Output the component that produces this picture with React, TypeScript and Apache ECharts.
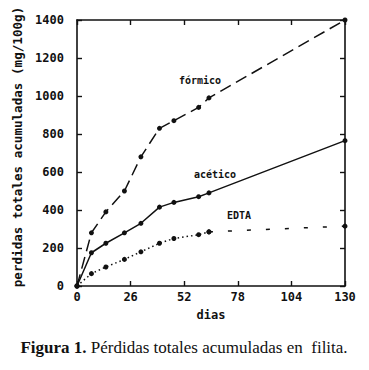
import React, { useEffect, useRef } from "react";
import * as echarts from "echarts";

const days = [0, 7, 14, 23, 31, 40, 47, 59, 64, 130];
const formico = [0, 280, 390, 500, 680, 830, 870, 940, 990, 1400];
const acetico = [0, 175, 225, 280, 330, 415, 440, 470, 490, 765];
const edta = [0, 65, 100, 140, 180, 225, 250, 270, 285, 315];
const xTicks = [0, 26, 52, 78, 104, 130];
const yTicks = [0, 200, 400, 600, 800, 1000, 1200, 1400];

const MONO = "'DejaVu Sans Mono', monospace";

export default function App() {
  const ref = useRef<HTMLDivElement>(null);
  useEffect(() => {
    document.body.style.margin = "0";
    const chart = echarts.init(ref.current!, null, { renderer: "svg" });
    const pts = (ys: number[]) => days.map((d, i) => [d, ys[i]]);
    const edtaPts = pts(edta);
    const axisCommon = {
      axisLine: { show: true, onZero: false, lineStyle: { color: "#111", width: 1.6 } },
      axisTick: { show: true, inside: true, length: 5, lineStyle: { color: "#111", width: 1.4 } },
      splitLine: { show: false },
    };
    const plain = (v: number) => String(v);
    chart.setOption({
      animation: false,
      grid: { left: 77, right: 24, top: 20, bottom: 84 },
      xAxis: [
        {
          type: "value",
          min: xTicks[0],
          max: xTicks[xTicks.length - 1],
          interval: 26,
          ...axisCommon,
          axisLabel: { margin: 5, fontFamily: MONO, fontWeight: "bold", fontSize: 12, color: "#111", formatter: plain },
          name: "dias",
          nameLocation: "middle",
          nameGap: 23,
          nameTextStyle: { fontFamily: MONO, fontWeight: "bold", fontSize: 12, color: "#111" },
        },
        {
          type: "value",
          position: "top",
          min: xTicks[0],
          max: xTicks[xTicks.length - 1],
          interval: 26,
          ...axisCommon,
          axisLabel: { show: false },
        },
      ],
      yAxis: [
        {
          type: "value",
          min: yTicks[0],
          max: yTicks[yTicks.length - 1],
          interval: 200,
          ...axisCommon,
          axisLabel: { margin: 13, fontFamily: MONO, fontWeight: "bold", fontSize: 12, color: "#111", formatter: plain },
        },
        {
          type: "value",
          position: "right",
          min: yTicks[0],
          max: yTicks[yTicks.length - 1],
          interval: 200,
          ...axisCommon,
          axisLabel: { show: false },
        },
      ],
      series: [
        {
          name: "fórmico",
          type: "line",
          data: pts(formico),
          symbol: "circle",
          symbolSize: 5,
          itemStyle: { color: "#111" },
          lineStyle: { color: "#111", width: 1.5, type: [12, 6] },
        },
        {
          name: "acético",
          type: "line",
          data: pts(acetico),
          symbol: "circle",
          symbolSize: 5,
          itemStyle: { color: "#111" },
          lineStyle: { color: "#111", width: 1.5, type: "solid" },
        },
        {
          name: "EDTA",
          type: "line",
          data: edtaPts.slice(0, 9),
          symbol: "circle",
          symbolSize: 5,
          itemStyle: { color: "#111" },
          lineStyle: { color: "#111", width: 1.5, type: [1.5, 3] },
        },
        {
          name: "EDTA tail",
          type: "line",
          data: edtaPts.slice(8),
          symbol: "circle",
          symbolSize: 5,
          itemStyle: { color: "#111" },
          lineStyle: { color: "#111", width: 1.5, type: [4, 15] },
        },
      ],
      graphic: [
        {
          type: "text",
          x: 17,
          y: 147,
          rotation: Math.PI / 2,
          style: {
            text: "perdidas totales acumuladas (mg/100g)",
            font: `bold 12.6px ${MONO}`,
            fill: "#111",
            align: "center",
            verticalAlign: "middle",
          },
        },
        {
          type: "text",
          x: 200,
          y: 80,
          style: { text: "fórmico", font: `bold 10px ${MONO}`, fill: "#111", align: "center", verticalAlign: "middle" },
        },
        {
          type: "text",
          x: 215,
          y: 174,
          style: { text: "acético", font: `bold 10px ${MONO}`, fill: "#111", align: "center", verticalAlign: "middle" },
        },
        {
          type: "text",
          x: 239,
          y: 215,
          style: { text: "EDTA", font: `bold 10px ${MONO}`, fill: "#111", align: "center", verticalAlign: "middle" },
        },
        {
          type: "text",
          x: 184,
          y: 347,
          style: {
            text: "{b|Figura 1.} Pérdidas totales acumuladas en  filita.",
            font: "17px 'Liberation Serif', serif",
            fill: "#111",
            align: "center",
            verticalAlign: "middle",
            rich: {
              b: { fontWeight: "bold", fontSize: 17, fontFamily: "'Liberation Serif', serif", fill: "#111" },
            },
          },
        },
      ],
    });
    return () => chart.dispose();
  }, []);
  return <div ref={ref} style={{ width: 369, height: 370 }} />;
}
